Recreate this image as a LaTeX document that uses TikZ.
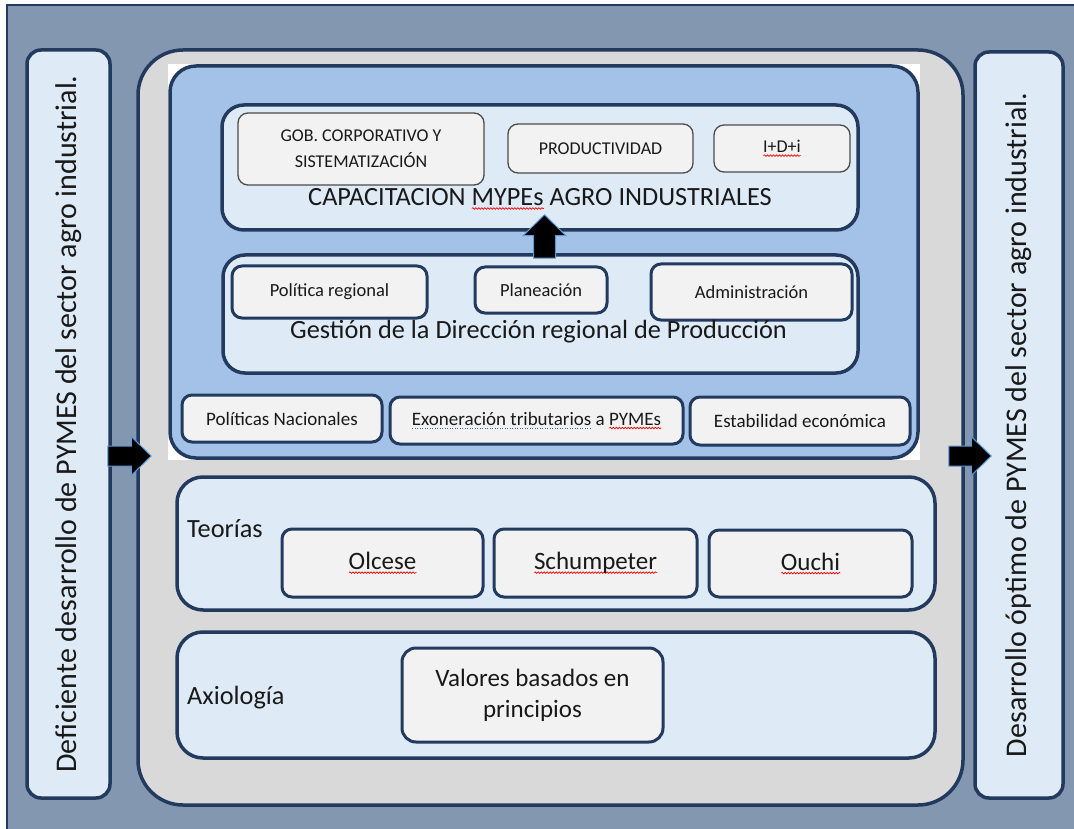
\documentclass[tikz,border=0pt]{standalone}
\usepackage{fontspec}
\setmainfont{Carlito}
\usetikzlibrary{calc}
\usetikzlibrary{decorations.pathmorphing}
\definecolor{slate}{RGB}{132,151,176}
\definecolor{navy}{RGB}{34,58,94}
\definecolor{paleblue}{RGB}{222,234,246}
\definecolor{coregray}{RGB}{217,217,217}
\definecolor{midblue}{RGB}{164,194,232}
\definecolor{itemgray}{RGB}{242,242,242}
\definecolor{textdark}{RGB}{25,25,25}
\definecolor{arrowblue}{RGB}{91,155,213}
\definecolor{gramblue}{RGB}{60,90,220}
\tikzstyle{sidebox}=[draw=navy,line width=3.5pt,fill=paleblue,rounded corners=14pt,rotate=90,text=textdark,font=\fontsize{30}{36}\selectfont]
\tikzstyle{corebox}=[draw=navy,line width=3.5pt,fill=coregray,rounded corners=45pt]
\tikzstyle{contextbox}=[draw=navy,line width=3.5pt,fill=midblue,rounded corners=26pt]
\tikzstyle{panelbox}=[draw=navy,line width=3.5pt,fill=paleblue,rounded corners=22pt]
\tikzstyle{itembox}=[draw=navy,line width=3pt,fill=itemgray,rounded corners=10pt,text=textdark,align=center]
\tikzstyle{thinbox}=[draw=black!70,line width=1.3pt,fill=itemgray,rounded corners=10pt,text=textdark,align=center,font=\fontsize{18}{26}\selectfont]
\tikzstyle{caption}=[text=textdark,inner sep=0pt,font=\fontsize{26.3}{31}\selectfont]
\tikzstyle{blockarrow}=[fill=black,draw=arrowblue,line width=1pt,line join=miter]
\tikzstyle{squiggle}=[sharp corners,red,line width=0.7pt,decorate,decoration={snake,amplitude=0.8pt,segment length=3pt}]
\newsavebox{\wordbox}
\newcommand{\spell}[1]{\sbox{\wordbox}{#1}\rlap{\raisebox{-3pt}{\tikz[baseline=0pt,sharp corners]\draw[squiggle] (0pt,0pt) -- (\wd\wordbox,0pt);}}\usebox{\wordbox}}
\newcommand{\gram}[1]{\sbox{\wordbox}{#1}\rlap{\raisebox{-3pt}{\tikz[baseline=0pt,sharp corners]\draw[gramblue,line width=1pt,dash pattern=on 1pt off 1.5pt] (0pt,0pt) -- (\wd\wordbox,0pt);}}\usebox{\wordbox}}
\newcommand{\boxnode}[7]{% Syntax: style, name, x1, y1, x2, y2, text
  \node[#1,minimum width={#5-#3},minimum height={#6-#4}] (#2) at ({(#3+#5)/2},{(#4+#6)/2}) {#7};
}
\newcommand{\harrow}[2]{% Syntax: tail, tip
  \filldraw[blockarrow] ([shift={(0,-10)}]#1) -- ([shift={(-20,-10)}]#2) -- ([shift={(-20,-19.5)}]#2) -- (#2)
    -- ([shift={(-20,19.5)}]#2) -- ([shift={(-20,10)}]#2) -- ([shift={(0,10)}]#1) -- cycle;
}
\newcommand{\varrow}[2]{% Syntax: tail, tip (pointing up)
  \filldraw[blockarrow] ([shift={(-11,0)}]#1) -- ([shift={(-11,21)}]#2) -- ([shift={(-21.5,21)}]#2) -- (#2)
    -- ([shift={(21.5,21)}]#2) -- ([shift={(11,21)}]#2) -- ([shift={(11,0)}]#1) -- cycle;
}
\begin{document}
\begin{tikzpicture}[x=1pt,y=-1pt]
  \useasboundingbox (0,0) rectangle (1074,829);
  \fill[white] (0,0) rectangle (1074,829);
  \fill[slate] (7,5) rectangle (1074,829);
  \draw[navy,line width=1.2pt] (7,829) -- (7,5) -- (1074,5);
  % side columns
  \node[sidebox,minimum width=748,minimum height=83] (defic) at (68.5,424) {Deficiente desarrollo de PYMES del sector agro industrial.};
  \node[sidebox,minimum width=746,minimum height=88] (optimo) at (1019,425) {Desarrollo óptimo de PYMES del sector agro industrial.};
  % central block
  \boxnode{corebox}{core}{138}{50}{963}{805}{}
  \fill[white] (168,64) rectangle (920,460);
  \boxnode{contextbox}{context}{170}{66}{918}{458}{}
  \boxnode{panelbox}{capac}{222}{105}{858}{230}{}
  \boxnode{thinbox}{gob}{238}{113}{484}{185}{GOB. CORPORATIVO Y\\SISTEMATIZACIÓN}
  \boxnode{thinbox}{prod}{508}{124}{693}{173}{PRODUCTIVIDAD}
  \boxnode{thinbox}{idi}{714}{125}{850}{172}{\spell{I+D+i}}
  \node[caption] (capacT) at (540,199) {CAPACITACION \spell{MYPEs} AGRO INDUSTRIALES};
  \boxnode{panelbox}{gestion}{223}{255}{858}{373}{}
  \boxnode{itembox,font=\fontsize{18.5}{22}\selectfont}{polreg}{232}{266}{427}{318}{Política regional}
  \boxnode{itembox,font=\fontsize{18.5}{22}\selectfont}{plan}{475}{267}{607}{313}{Planeación}
  \boxnode{itembox,font=\fontsize{18.5}{22}\selectfont}{admin}{651}{264}{852}{320}{Administración}
  \node[caption] (gestT) at (538.5,332) {Gestión de la Dirección regional de Producción};
  \boxnode{itembox,font=\fontsize{19}{22}\selectfont}{polnac}{182}{395}{382}{442}{Políticas Nacionales}
  \boxnode{itembox,font=\fontsize{19}{22}\selectfont}{exon}{390}{397}{683}{444}{\gram{Exoneración tributarios} a \spell{PYMEs}}
  \boxnode{itembox,font=\fontsize{19}{22}\selectfont}{estab}{690}{397}{910}{445}{Estabilidad económica}
  % theories and values
  \boxnode{panelbox,rounded corners=26pt}{teorias}{177}{477}{935}{610}{}
  \node[caption,anchor=west] (teoT) at (187,529) {Teorías};
  \boxnode{itembox,font=\fontsize{25}{30}\selectfont}{olcese}{282}{529}{483}{597}{\spell{Olcese}}
  \boxnode{itembox,font=\fontsize{25}{30}\selectfont}{schump}{494}{529}{697}{597}{\spell{Schumpeter}}
  \boxnode{itembox,font=\fontsize{25}{30}\selectfont}{ouchi}{709}{530}{912}{597}{\spell{Ouchi}}
  \boxnode{panelbox,rounded corners=26pt}{axio}{177}{632}{935}{758}{}
  \node[caption,anchor=west] (axioT) at (187,698) {Axiología};
  \boxnode{itembox,font=\fontsize{25}{31}\selectfont,rounded corners=14pt}{valores}{402}{648}{663}{742}{Valores basados en\\principios}
  % arrows
  \coordinate (inA) at ($(defic.south)+(-4,32)$);
  \coordinate (inB) at ($(core.west)+(15,28.5)$);
  \coordinate (outA) at ($(core.east)+(-16,28.5)$);
  \coordinate (outB) at ($(optimo.north)+(18,31)$);
  \coordinate (upA) at ($(gestion.north)+(4,5)$);
  \coordinate (upB) at ($(capac.south)+(4.5,-17)$);
  \harrow{inA}{inB}
  \harrow{outA}{outB}
  \varrow{upA}{upB}
\end{tikzpicture}
\end{document}
